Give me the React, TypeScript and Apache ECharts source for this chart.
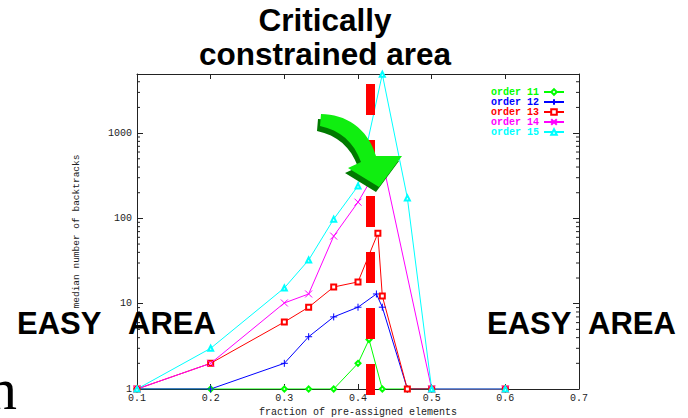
import React, { useEffect, useRef } from "react";
import * as echarts from "echarts";

const seriesNames = ["order 11", "order 12", "order 13", "order 14", "order 15"];
const seriesColors = ["#00ff00", "#0000ff", "#ff0000", "#ff00ff", "#00ffff"];

const order11: number[][] = [
  [0.1, 1], [0.2, 1], [0.3, 1], [0.333, 1], [0.367, 1], [0.4, 2.0],
  [0.415, 3.8], [0.433, 1], [0.467, 1], [0.5, 1], [0.6, 1],
];
const order12: number[][] = [
  [0.1, 1], [0.2, 1], [0.3, 2.0], [0.333, 4.1], [0.367, 7.0], [0.4, 9.1],
  [0.425, 13], [0.433, 9.1], [0.467, 1], [0.5, 1], [0.6, 1],
];
const order13: number[][] = [
  [0.1, 1], [0.2, 2.0], [0.3, 6.1], [0.333, 9.1], [0.367, 15.7], [0.4, 18],
  [0.427, 67], [0.433, 12.3], [0.467, 1], [0.5, 1], [0.6, 1],
];
const order14: number[][] = [
  [0.1, 1], [0.2, 2.0], [0.3, 10.2], [0.333, 13], [0.367, 62], [0.4, 155],
  [0.433, 480], [0.5, 1], [0.6, 1],
];
const order15: number[][] = [
  [0.1, 1], [0.2, 3.0], [0.3, 15.3], [0.333, 32.5], [0.367, 98], [0.4, 240],
  [0.433, 4900], [0.467, 174], [0.5, 1], [0.6, 1],
];

const yMinorTicks = [
  2, 3, 4, 5, 6, 7, 8, 9,
  20, 30, 40, 50, 60, 70, 80, 90,
  200, 300, 400, 500, 600, 700, 800, 900,
  2000, 3000, 4000,
];

const seriesData = [order11, order12, order13, order14, order15];
const seriesSymbols = [
  "emptyDiamond",
  "path://M0,5L10,5M5,0L5,10",
  "emptyRect",
  "path://M0,0L10,10M10,0L0,10",
  "emptyTriangle",
];

const arrowPath =
  "M 321 114 C 345 114 368 128 376 156 L 402 156 L 379 187 L 348 168 L 361 162 C 354 142 340 130 320 126 Z";

let registered = false;
function registerArrow() {
  if (registered) return;
  registered = true;
  echarts.graphic.registerShape("bigArrow", echarts.graphic.extendPath(arrowPath, {}) as any);
}

export default function App() {
  const ref = useRef<HTMLDivElement>(null);
  useEffect(() => {
    document.body.style.margin = "0";
    registerArrow();
    const chart = echarts.init(ref.current!, null, { renderer: "svg" });
    const mono = "Liberation Mono";
    const axisColor = "#222";
    const xAxisCommon = {
      type: "value",
      min: 0.1,
      max: 0.7,
      interval: 0.1,
      axisLine: { show: true, lineStyle: { color: axisColor, width: 1 } },
      axisTick: { show: true, inside: true, length: 5, lineStyle: { color: axisColor } },
      splitLine: { show: false },
    };
    const yAxisCommon = {
      type: "log",
      logBase: 10,
      min: 1,
      max: 4930,
      axisLine: { show: true, lineStyle: { color: axisColor, width: 1 } },
      axisTick: { show: true, inside: true, length: 6, lineStyle: { color: axisColor } },
      splitLine: { show: false },
    };
    const lineSeries = seriesNames.map((name, i) => ({
      name,
      type: "line",
      data: seriesData[i],
      symbol: seriesSymbols[i],
      symbolSize: i === 1 || i === 3 ? 7 : 5,
      showAllSymbol: true,
      lineStyle: { color: seriesColors[i], width: 1 },
      itemStyle: { color: seriesColors[i], borderColor: seriesColors[i], borderWidth: 1 },
      z: 3,
    }));
    const option: any = {
      animation: false,
      grid: { left: 137, right: 109, top: 74, bottom: 29, outerBoundsMode: "none", containLabel: false },
      legend: {
        orient: "vertical",
        right: 118,
        top: 82,
        align: "right",
        itemWidth: 20,
        itemHeight: 7,
        itemGap: 0,
        textStyle: { fontFamily: mono, fontSize: 10, fontWeight: "bold" },
        data: seriesNames.map((n, i) => ({ name: n, textStyle: { color: seriesColors[i] } })),
      },
      xAxis: [
        {
          ...xAxisCommon,
          position: "bottom",
          name: "fraction of pre-assigned elements",
          nameLocation: "middle",
          nameGap: 16,
          nameTextStyle: { fontFamily: mono, fontSize: 10, color: axisColor },
          axisLabel: {
            fontFamily: mono,
            fontSize: 10,
            color: axisColor,
            margin: 4,
            formatter: (v: number) => v.toFixed(1),
          },
        },
        { ...xAxisCommon, position: "top", axisLabel: { show: false } },
      ],
      yAxis: [
        {
          ...yAxisCommon,
          position: "left",
          name: "median number of backtracks",
          nameLocation: "middle",
          nameGap: 56,
          nameTextStyle: { fontFamily: mono, fontSize: 9.5, color: axisColor },
          axisLabel: {
            fontFamily: mono,
            fontSize: 10,
            color: axisColor,
            margin: 5,
            showMaxLabel: false,
            formatter: (v: number) => String(Math.round(v)),
          },
        },
        { ...yAxisCommon, position: "right", axisLabel: { show: false } },
      ],
      series: [
        ...lineSeries,
        {
          type: "custom",
          silent: true,
          data: yMinorTicks.map((v) => [0.1, v]),
          renderItem: (params: any, api: any) => {
            const v = api.value(1);
            const l = api.coord([0.1, v]);
            const r = api.coord([0.7, v]);
            return {
              type: "group",
              children: [
                { type: "line", shape: { x1: l[0], y1: l[1], x2: l[0] + 3, y2: l[1] }, style: { stroke: axisColor, lineWidth: 1 } },
                { type: "line", shape: { x1: r[0] - 3, y1: r[1], x2: r[0], y2: r[1] }, style: { stroke: axisColor, lineWidth: 1 } },
              ],
            };
          },
          z: 1,
        },
      ],
      graphic: [
        ...[84, 140, 196, 252, 308, 364].map((y) => ({
          type: "rect",
          z: 50,
          shape: { x: 366, y, width: 9, height: 31 },
          style: { fill: "#ff0000" },
        })),
        { type: "bigArrow", x: -3, y: 5, z: 60, style: { fill: "#007a00" } },
        { type: "bigArrow", x: 0, y: 0, z: 61, style: { fill: "#10ee10" } },
        {
          type: "text", z: 70, x: 325, y: 20,
          style: { text: "Critically", fontFamily: "Liberation Sans", fontWeight: "bold", fontSize: 31.5, fill: "#000", align: "center", verticalAlign: "middle" },
        },
        {
          type: "text", z: 70, x: 325, y: 54,
          style: { text: "constrained area", fontFamily: "Liberation Sans", fontWeight: "bold", fontSize: 31.5, fill: "#000", align: "center", verticalAlign: "middle" },
        },
        ...[[17, "EASY"], [128, "AREA"], [487, "EASY"], [588, "AREA"]].map(([x, t]) => ({
          type: "text", z: 70, x: x as number, y: 323,
          style: { text: t as string, fontFamily: "Liberation Sans", fontWeight: "bold", fontSize: 31, fill: "#000", align: "left", verticalAlign: "middle" },
        })),
        {
          type: "text", z: 70, x: -13, y: 389,
          style: { text: "n", fontFamily: "Liberation Serif", fontSize: 60, fill: "#000", align: "left", verticalAlign: "middle" },
        },
      ],
    };
    chart.setOption(option);
    return () => chart.dispose();
  }, []);
  return <div ref={ref} style={{ width: 688, height: 418 }} />;
}
